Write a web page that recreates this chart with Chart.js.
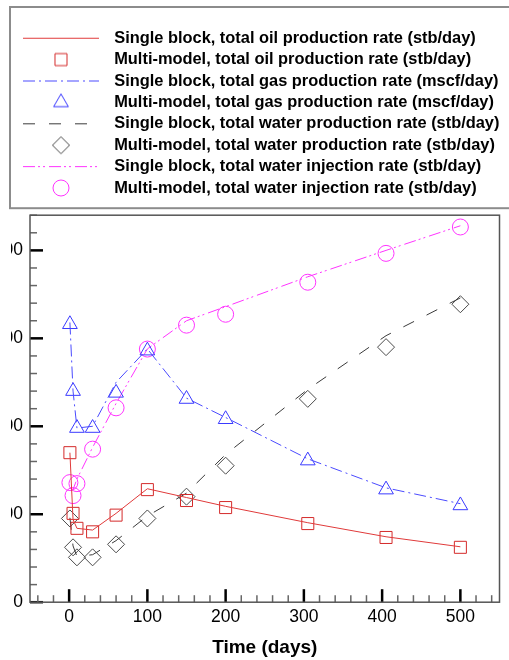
<!DOCTYPE html>
<html>
<head>
<meta charset="utf-8">
<script src="https://cdn.jsdelivr.net/npm/chart.js@4/dist/chart.umd.min.js"></script>
<style>
  html, body { margin: 0; padding: 0; background: #fff; overflow: hidden; }
  #wrap { position: relative; width: 509px; height: 660px; }
</style>
</head>
<body>
<div id="wrap"><canvas id="chart" width="509" height="660"></canvas></div>
<script>
// time of each reported point (days)
const days = [1, 5, 10, 30, 60, 100, 150, 200, 305, 405, 500];

// single block runs (drawn as lines)
const oilSingle = [850, 470, 420, 410, 505, 645, 595, 545, 452, 372, 315];
const gasSingle = [1590, 1200, 990, 1000, 1250, 1440, 1160, 1050, 815, 650, 560];
const waterSingle = [480, 320, 260, 270, 350, 490, 620, 840, 1210, 1515, 1730];
const injSingle = [650, 640, 700, 880, 1130, 1440, 1600, 1680, 1850, 2000, 2140];

// multi-model runs (drawn as markers)
const oilMulti = [850, 505, 420, 400, 495, 640, 578, 538, 447, 368, 312];
const gasMulti = [1580, 1200, 990, 990, 1190, 1430, 1155, 1040, 805, 640, 550];
const waterMulti = [476, 312, 255, 255, 329, 476, 600, 776, 1156, 1450, 1694];
const injMulti = [680, 606, 674, 870, 1105, 1439, 1575, 1637, 1819, 1983, 2133];

const seriesNames = [
  'Single block, total oil production rate (stb/day)',
  'Multi-model, total oil production rate (stb/day)',
  'Single block, total gas production rate (mscf/day)',
  'Multi-model, total gas production rate (mscf/day)',
  'Single block, total water production rate (stb/day)',
  'Multi-model, total water production rate (stb/day)',
  'Single block, total water injection rate (stb/day)',
  'Multi-model, total water injection rate (stb/day)'
];

// axis ticks: minor step and labelled step
const xTickFirst = -40, xTickLast = 540, xMinor = 20, xMajor = 100;
const yTickFirst = 0, yTickLast = 2200, yMinor = 100, yMajor = 500;
const FONT = "'Liberation Sans', Arial, Helvetica, sans-serif";

function points(values) {
  return days.map((d, i) => ({x: d, y: values[i]}));
}

function tickList(first, last, step) {
  const out = [];
  for (let v = first; v <= last; v += step) out.push({value: v});
  return out;
}

function lineSet(label, values, color, dash) {
  return {
    label, data: points(values), showLine: true, borderColor: color, borderWidth: 1,
    borderDash: dash, pointRadius: 0, fill: false, xAxisID: 'x', yAxisID: 'y'
  };
}

function markerSet(label, values, color, style, radius) {
  return {
    label, data: points(values), showLine: false, borderColor: color,
    pointBorderColor: color, pointBackgroundColor: 'rgba(0,0,0,0)', pointBorderWidth: 1,
    pointStyle: style, pointRadius: radius, pointHoverRadius: radius, xAxisID: 'x', yAxisID: 'y'
  };
}

const datasets = [
  lineSet(seriesNames[0], oilSingle, '#e03a3a', []),
  markerSet(seriesNames[1], oilMulti, '#d42a2a', 'rect', 8.5),
  lineSet(seriesNames[2], gasSingle, '#4a4aff', [12, 4, 2, 4]),
  markerSet(seriesNames[3], gasMulti, '#3a3aff', 'triangle', 8.5),
  lineSet(seriesNames[4], waterSingle, '#3a3a3a', [12, 14]),
  markerSet(seriesNames[5], waterMulti, '#4a4a4a', 'rectRot', 8.5),
  lineSet(seriesNames[6], injSingle, '#ff33ff', [12, 3, 2, 3, 2, 4]),
  markerSet(seriesNames[7], injMulti, '#ff33ff', 'circle', 8)
];

// small pictures used as legend samples
function legendSample(ds) {
  const c = document.createElement('canvas');
  if (ds.showLine) {
    c.width = 76; c.height = 3;
    const g = c.getContext('2d');
    g.strokeStyle = ds.borderColor; g.lineWidth = 1;
    g.setLineDash(ds.borderDash);
    g.beginPath(); g.moveTo(0, 1.5); g.lineTo(76, 1.5); g.stroke();
  } else {
    c.width = 22; c.height = 22;
    const g = c.getContext('2d');
    g.strokeStyle = ds.borderColor; g.fillStyle = 'rgba(0,0,0,0)'; g.lineWidth = 1;
    Chart.helpers.drawPoint(g, {pointStyle: ds.pointStyle, radius: ds.pointRadius, borderWidth: 1, rotation: 0}, 11, 11);
  }
  return c;
}
const samples = datasets.map(legendSample);

// inward ticks and the plot frame
const frameTicks = {
  id: 'frameTicks',
  beforeDatasetsDraw(chart) {
    const {ctx, chartArea: a, scales: {x, y}} = chart;
    ctx.save();
    y.ticks.forEach(t => {
      const py = y.getPixelForValue(t.value);
      const major = t.value % yMajor === 0;
      ctx.strokeStyle = major ? '#000' : '#666';
      ctx.lineWidth = major ? 2.5 : 1.5;
      ctx.beginPath(); ctx.moveTo(a.left, py); ctx.lineTo(a.left + (major ? 13 : 7), py); ctx.stroke();
    });
    x.ticks.forEach(t => {
      const px = x.getPixelForValue(t.value);
      const major = t.value % xMajor === 0;
      ctx.strokeStyle = major ? '#000' : '#666';
      ctx.lineWidth = major ? 2.5 : 1.5;
      ctx.beginPath(); ctx.moveTo(px, a.bottom); ctx.lineTo(px, a.bottom - (major ? 13 : 7)); ctx.stroke();
    });
    ctx.strokeStyle = '#555';
    ctx.lineWidth = 1.5;
    ctx.strokeRect(a.left, a.top, a.right - a.left, a.bottom - a.top);
    ctx.restore();
  },
  afterDraw(chart) {
    const lg = chart.legend, ctx = chart.ctx;
    ctx.save();
    ctx.strokeStyle = '#8c8c8c';
    ctx.lineWidth = 2;
    ctx.strokeRect(lg.left - 1, lg.top - 18, chart.width + 10, lg.bottom - lg.top + 20);
    ctx.restore();
  }
};

new Chart(document.getElementById('chart'), {
  type: 'scatter',
  data: {datasets},
  options: {
    responsive: false,
    animation: false,
    devicePixelRatio: 1,
    events: [],
    layout: {padding: {top: 25, left: 11, right: 6, bottom: 0}},
    plugins: {
      tooltip: {enabled: false},
      legend: {
        position: 'top',
        align: 'start',
        labels: {
          usePointStyle: true,
          pointStyleWidth: 90,
          padding: 5,
          color: '#000',
          font: {family: FONT, size: 16.4, weight: 'bold'},
          generateLabels: chart => chart.data.datasets.map((ds, i) => ({
            text: ds.label,
            pointStyle: samples[i],
            fillStyle: 'rgba(0,0,0,0)',
            strokeStyle: ds.borderColor,
            lineWidth: 0,
            fontColor: '#000',
            hidden: false,
            datasetIndex: i
          }))
        }
      }
    },
    scales: {
      x: {
        type: 'linear',
        position: 'bottom',
        min: -50,
        max: 550,
        grid: {display: false, drawTicks: false},
        border: {display: false},
        afterBuildTicks: s => { s.ticks = tickList(xTickFirst, xTickLast, xMinor); },
        ticks: {
          autoSkip: false,
          maxRotation: 0,
          padding: 4.5,
          color: '#000',
          font: {family: FONT, size: 17.5},
          callback: v => (v % xMajor === 0 ? String(v) : '')
        },
        title: {
          display: true,
          text: 'Time (days)',
          color: '#000',
          font: {family: FONT, size: 19, weight: 'bold'},
          padding: {top: 4, bottom: 1}
        }
      },
      xTop: {
        type: 'linear',
        position: 'top',
        display: true,
        grid: {display: false, drawTicks: false},
        border: {display: false},
        ticks: {display: false},
        afterFit: s => { s.height = 9; }
      },
      y: {
        type: 'linear',
        min: 0,
        max: 2200,
        grid: {display: false, drawTicks: false},
        border: {display: false},
        afterBuildTicks: s => { s.ticks = tickList(yTickFirst, yTickLast, yMinor); },
        ticks: {
          autoSkip: false,
          padding: 7,
          color: '#000',
          font: {family: FONT, size: 17.5},
          callback: v => (v % yMajor === 0 ? String(v) : '')
        },
        afterFit: s => { s.width = 19; }
      }
    }
  },
  plugins: [frameTicks]
});
</script>
</body>
</html>
